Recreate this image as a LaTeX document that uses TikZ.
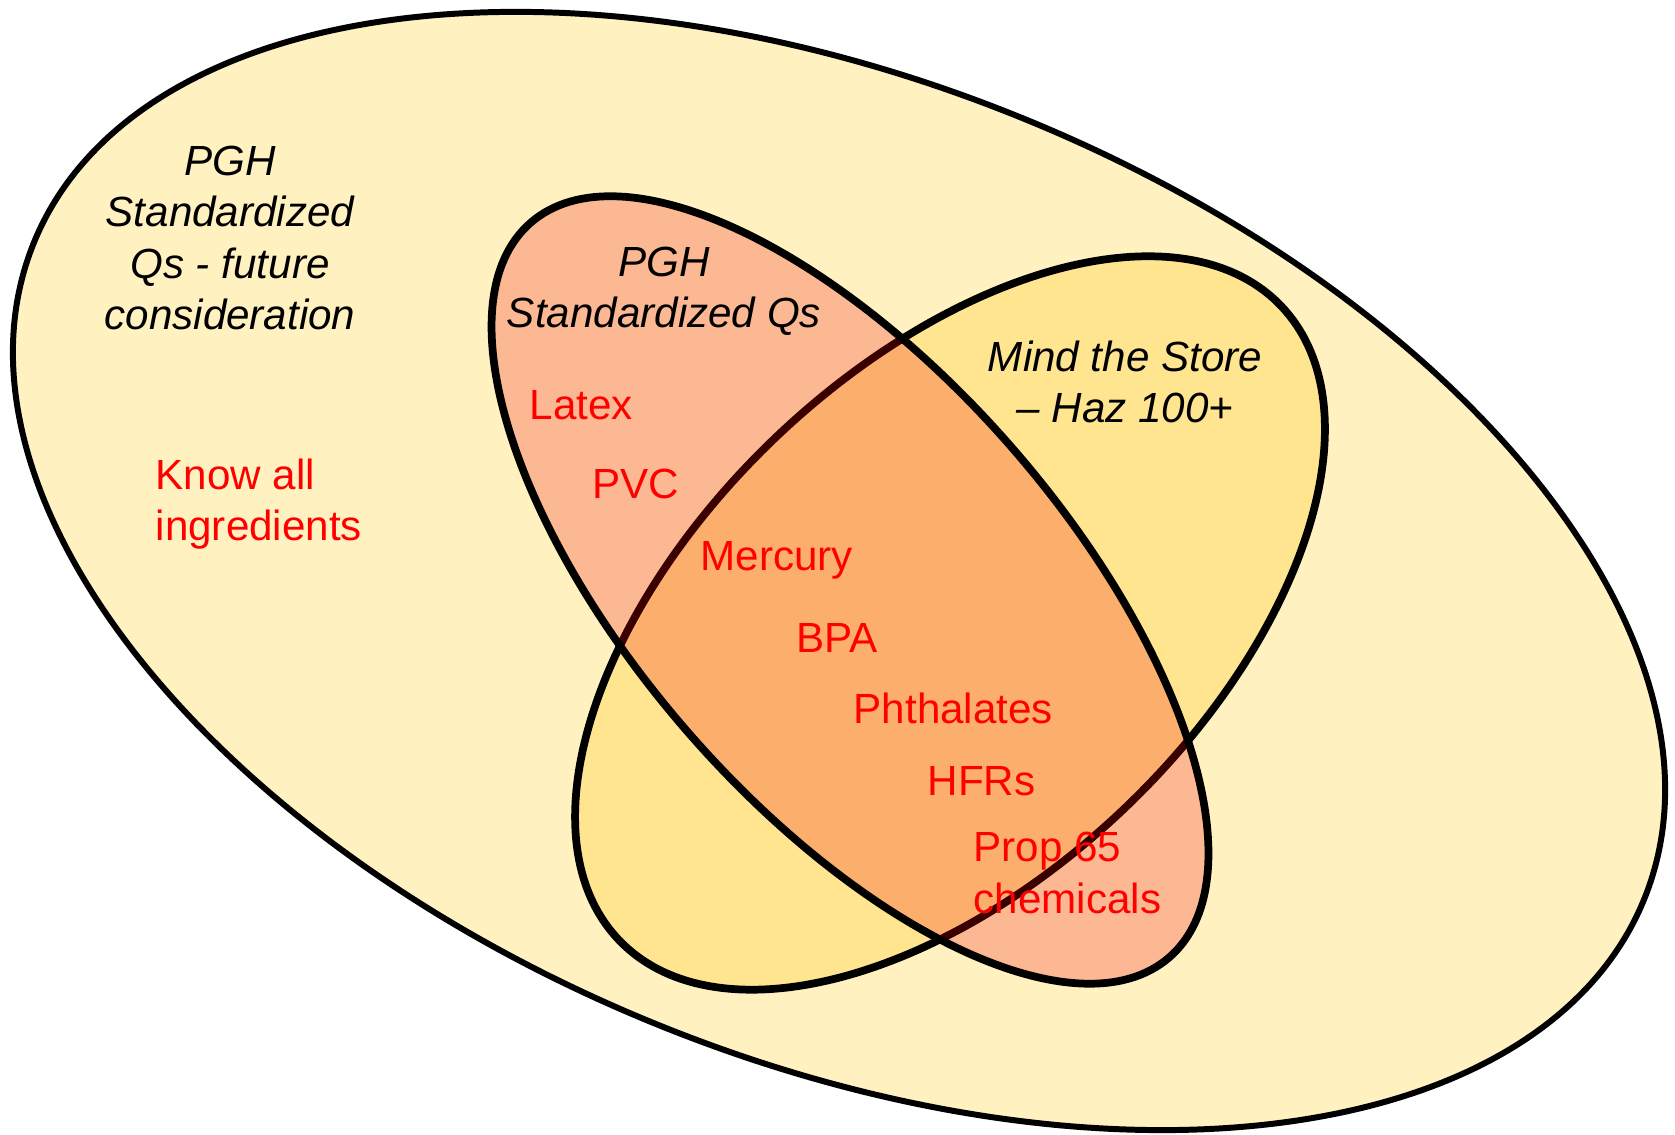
\documentclass[tikz,border=0pt]{standalone}
\usepackage{fontspec}
\setmainfont{Liberation Sans}
\definecolor{outerfill}{RGB}{255,242,192}
\definecolor{storefill}{RGB}{255,229,143}
\definecolor{pghfill}{RGB}{245,0,0}
\definecolor{itemred}{RGB}{255,0,0}
\tikzset{
  outerset/.style={line width=1.7pt, draw=black, fill=outerfill},
  innerset/.style={line width=2.2pt, draw=black},
  setlabel/.style={font=\fontsize{12pt}{14.6pt}\selectfont\itshape, text=black, align=center, inner sep=0pt},
  item/.style={font=\fontsize{12pt}{14.6pt}\selectfont, text=itemred, anchor=west, align=left, inner sep=0pt}
}
\begin{document}
\begin{tikzpicture}
\useasboundingbox (0,0) rectangle (16.75,11.35);
\fill[white] (0,0) rectangle (16.75,11.35);
% outer set
\draw[outerset, rotate around={-22.2:(8.39,5.64)}] (8.39,5.64) ellipse [x radius=8.695, y radius=4.886];
% Mind the Store set
\draw[innerset, fill=storefill, rotate around={43.8:(9.50,5.12)}] (9.50,5.12) ellipse [x radius=4.584, y radius=2.546];
% PGH Standardized Qs set (translucent)
\draw[innerset, fill=pghfill, fill opacity=0.24, rotate around={-49.0:(8.50,5.45)}] (8.50,5.45) ellipse [x radius=4.867, y radius=2.156];
% labels
\node[setlabel] (outerlabel) at (2.30,8.97) {PGH\\Standardized\\Qs - future\\consideration};
\node[setlabel] (pghlabel) at (6.64,8.44) {PGH\\Standardized Qs};
\node[setlabel] (storelabel) at (11.25,7.53) {Mind the Store\\– Haz 100+};
% items
\node[item] (know) at (1.55,6.31) {Know all\\ingredients};
\node[item] (latex) at (5.29,7.30) {Latex};
\node[item] (pvc) at (5.92,6.51) {PVC};
\node[item] (mercury) at (7.00,5.75) {Mercury};
\node[item] (bpa) at (7.96,4.97) {BPA};
\node[item] (phth) at (8.53,4.27) {Phthalates};
\node[item] (hfrs) at (9.27,3.54) {HFRs};
\node[item] (prop) at (9.73,2.62) {Prop 65\\chemicals};
\end{tikzpicture}
\end{document}
